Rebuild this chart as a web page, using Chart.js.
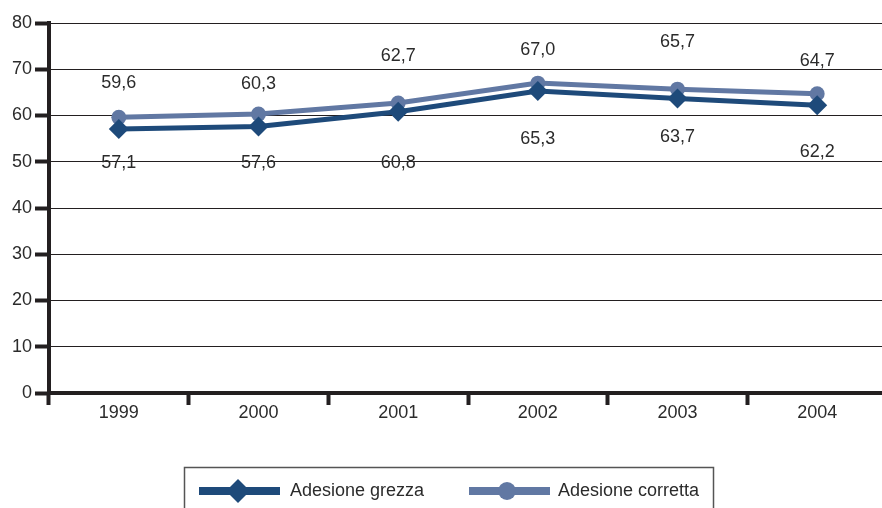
<!DOCTYPE html>
<html>
<head>
<meta charset="utf-8">
<script src="https://cdn.jsdelivr.net/npm/chart.js@4"></script>
<style>
html,body{margin:0;padding:0;background:#fff;overflow:hidden;}
#wrap{width:890px;height:508px;}
</style>
</head>
<body>
<div id="wrap"><canvas id="c" width="890" height="508"></canvas></div>
<script>
const categories = ['1999','2000','2001','2002','2003','2004'];
const grezza = [57.1, 57.6, 60.8, 65.3, 63.7, 62.2];
const corretta = [59.6, 60.3, 62.7, 67.0, 65.7, 64.7];
const seriesNames = ['Adesione grezza', 'Adesione corretta'];
const yTicks = [0, 10, 20, 30, 40, 50, 60, 70, 80];

// label placement (style): pixel offsets of value labels from their points
const offsetsGrezza = [34, 36, 51, 48, 39, 47];
const offsetsCorretta = [-34, -30, -47, -33, -47, -33];

const COL_G = '#1e4a7a';
const COL_C = '#6178a3';
const INK = '#231f20';
const TXT = '#2b2b2b';
const FONT = '"Liberation Sans", Arial, sans-serif';

const fmt = v => v.toFixed(1).replace('.', ',');

const valueLabels = {
  id: 'valueLabels',
  afterDatasetsDraw(chart) {
    const ctx = chart.ctx;
    ctx.save();
    ctx.font = '18px ' + FONT;
    ctx.fillStyle = TXT;
    ctx.textAlign = 'center';
    ctx.textBaseline = 'middle';
    const offs = [offsetsGrezza, offsetsCorretta];
    chart.data.datasets.forEach((ds, di) => {
      const meta = chart.getDatasetMeta(di);
      meta.data.forEach((pt, i) => {
        ctx.fillText(fmt(ds.data[i]), pt.x, pt.y + offs[di][i]);
      });
    });
    ctx.restore();
  }
};

const customLegend = {
  id: 'customLegend',
  afterDraw(chart) {
    const ctx = chart.ctx;
    ctx.save();
    ctx.strokeStyle = '#555';
    ctx.lineWidth = 1.5;
    ctx.strokeRect(184.5, 467.5, 529, 60);
    const y = 491;
    // grezza
    ctx.strokeStyle = COL_G; ctx.lineWidth = 8;
    ctx.beginPath(); ctx.moveTo(199, y); ctx.lineTo(280, y); ctx.stroke();
    ctx.fillStyle = COL_G;
    ctx.beginPath();
    ctx.moveTo(238, y - 12); ctx.lineTo(250, y); ctx.lineTo(238, y + 12); ctx.lineTo(226, y);
    ctx.closePath(); ctx.fill();
    // corretta
    ctx.strokeStyle = COL_C; ctx.lineWidth = 8;
    ctx.beginPath(); ctx.moveTo(469, y); ctx.lineTo(550, y); ctx.stroke();
    ctx.fillStyle = COL_C;
    ctx.beginPath(); ctx.arc(507, y, 9, 0, Math.PI * 2); ctx.fill();
    ctx.font = '18px ' + FONT;
    ctx.fillStyle = TXT;
    ctx.textAlign = 'left';
    ctx.textBaseline = 'middle';
    ctx.fillText(seriesNames[0], 290, y);
    ctx.fillText(seriesNames[1], 558, y);
    ctx.restore();
  }
};

new Chart(document.getElementById('c'), {
  type: 'line',
  data: {
    labels: categories,
    datasets: [
      {
        label: seriesNames[0], data: grezza,
        borderColor: COL_G, backgroundColor: COL_G, borderWidth: 5,
        pointStyle: 'rectRot', pointRadius: 10, pointBorderWidth: 0,
        pointBackgroundColor: COL_G, tension: 0, fill: false
      },
      {
        label: seriesNames[1], data: corretta,
        borderColor: COL_C, backgroundColor: COL_C, borderWidth: 5,
        pointStyle: 'circle', pointRadius: 7.5, pointBorderWidth: 0,
        pointBackgroundColor: COL_C, tension: 0, fill: false
      }
    ]
  },
  options: {
    responsive: false,
    animation: false,
    layout: { autoPadding: false, padding: { top: 23, right: 3, left: 0, bottom: 0 } },
    plugins: { legend: { display: false }, tooltip: { enabled: false } },
    scales: {
      x: {
        type: 'category',
        offset: true,
        grid: { offset: true, drawOnChartArea: false, drawTicks: true, tickLength: 12, tickWidth: 4, tickColor: INK },
        border: { display: true, color: INK, width: 4 },
        ticks: { color: TXT, font: { family: FONT, size: 18 }, padding: -3, maxRotation: 0 },
        afterFit(s) { s.height = 115; s.paddingLeft = 0; s.paddingRight = 0; }
      },
      y: {
        min: 0, max: 80,
        afterBuildTicks(s) { s.ticks = yTicks.map(v => ({ value: v })); },
        grid: { color: INK, lineWidth: 1, drawTicks: true, tickLength: 14, tickWidth: 4, tickColor: INK },
        border: { display: true, color: INK, width: 4 },
        ticks: { color: TXT, font: { family: FONT, size: 18 }, padding: 3 },
        afterFit(s) { s.width = 49; s.paddingTop = 0; s.paddingBottom = 0; }
      }
    }
  },
  plugins: [valueLabels, customLegend]
});
</script>
</body>
</html>
